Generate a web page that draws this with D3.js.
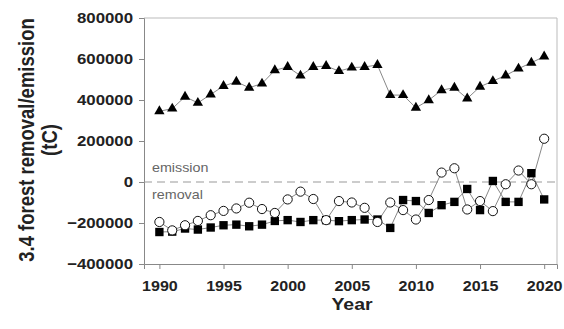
<!DOCTYPE html>
<html><head><meta charset="utf-8">
<script src="https://cdn.jsdelivr.net/npm/d3@7"></script>
<style>body{margin:0;background:#fff}svg{display:block}</style>
</head><body><svg id="c" width="564" height="329"></svg>
<script>
const years = d3.range(1990, 2021);
const triangleSeries = [345000,358000,416000,386000,427000,468000,489000,460000,480000,545000,561000,519000,561000,566000,541000,558000,561000,571000,424000,424000,362000,399000,448000,460000,407000,465000,492000,520000,553000,582000,612000];
const squareSeries = [-244000,-242000,-227000,-232000,-222000,-211000,-208000,-216000,-208000,-190000,-186000,-195000,-186000,-186000,-191000,-186000,-183000,-183000,-224000,-88000,-93000,-151000,-113000,-97000,-34000,-137000,5000,-97000,-97000,43000,-85000];
const circleSeries = [-195000,-236000,-211000,-190000,-162000,-141000,-129000,-101000,-132000,-151000,-85000,-47000,-83000,-186000,-93000,-100000,-126000,-195000,-100000,-137000,-183000,-88000,46000,67000,-134000,-93000,-142000,-11000,56000,-11000,211000];
const yTicks = [-400000,-200000,0,200000,400000,600000,800000];
const xTicks = [1990,1995,2000,2005,2010,2015,2020];

const svg = d3.select("#c");
const L=144, R=557, T=18, B=264;
const x = d3.scaleLinear().domain([1988.8, 2021]).range([L, R]);
const y = d3.scaleLinear().domain([-400000, 800000]).range([B, T]);
const font = "Arial, 'Liberation Sans', sans-serif";

function widen(sel, f){
  sel.each(function(){
    const w = this.getComputedTextLength();
    d3.select(this).attr("textLength", w*f).attr("lengthAdjust","spacingAndGlyphs");
  });
}

// frame top/right
svg.append("path").attr("d",`M${L},${T}H${R}V${B}`).attr("fill","none").attr("stroke","#bbb").attr("stroke-width",1);

// axes
const ya = svg.append("g").attr("transform",`translate(${L},0)`)
  .call(d3.axisLeft(y).tickValues(yTicks).tickSize(5).tickPadding(6).tickFormat(d3.format("d")));
const xa = svg.append("g").attr("transform",`translate(0,${B})`)
  .call(d3.axisBottom(x).tickValues(xTicks).tickSize(5).tickPadding(11).tickFormat(d3.format("d")));
[ya,xa].forEach(a=>{
  a.selectAll("path,line").attr("stroke","#888");
  a.selectAll("text").attr("font-family",font).attr("font-weight","bold").attr("font-size",15).attr("fill","#222");
});
widen(ya.selectAll("text"),1.12);
widen(xa.selectAll("text"),1.07);

// zero dashed line
svg.append("line").attr("x1",L).attr("x2",R).attr("y1",y(0)).attr("y2",y(0))
  .attr("stroke","#999").attr("stroke-dasharray","8,5").attr("stroke-width",1);
const lab = svg.append("g").attr("font-family",font).attr("font-size",13).attr("fill","#666");
lab.append("text").attr("x",152).attr("y",y(0)-10).text("emission");
lab.append("text").attr("x",152).attr("y",y(0)+17).text("removal");
widen(lab.selectAll("text"),1.1);

const line = d3.line().x((d,i)=>x(years[i])).y(d=>y(d));
function drawLine(data){
  svg.append("path").datum(data).attr("d",line).attr("fill","none").attr("stroke","#888").attr("stroke-width",1);
}
drawLine(triangleSeries); drawLine(squareSeries); drawLine(circleSeries);

svg.append("g").selectAll("path").data(squareSeries).join("path")
  .attr("d",d3.symbol(d3.symbolSquare,70))
  .attr("transform",(d,i)=>`translate(${x(years[i])},${y(d)})`).attr("fill","#000");
svg.append("g").selectAll("circle").data(circleSeries).join("circle")
  .attr("cx",(d,i)=>x(years[i])).attr("cy",d=>y(d)).attr("r",4.6)
  .attr("fill","#fff").attr("stroke","#111").attr("stroke-width",1);
svg.append("g").selectAll("path").data(triangleSeries).join("path")
  .attr("d",d3.symbol(d3.symbolTriangle,46))
  .attr("transform",(d,i)=>`translate(${x(years[i])},${y(d)})`).attr("fill","#000");

// titles
const tt = svg.append("g").attr("font-family",font).attr("font-weight","bold").attr("font-size",18.5).attr("fill","#222").attr("text-anchor","middle");
tt.append("text").attr("transform",`translate(34,140) scale(1.15,1) rotate(-90)`).text("3.4 forest removal/emission");
tt.append("text").attr("transform",`translate(57,140) scale(1.15,1) rotate(-90)`).text("(tC)");
const yl = svg.append("text").attr("x",352).attr("y",310).attr("text-anchor","middle")
  .attr("font-family",font).attr("font-weight","bold").attr("font-size",16.5).attr("fill","#222")
  .text("Year");
widen(yl,1.18);
</script></body></html>
